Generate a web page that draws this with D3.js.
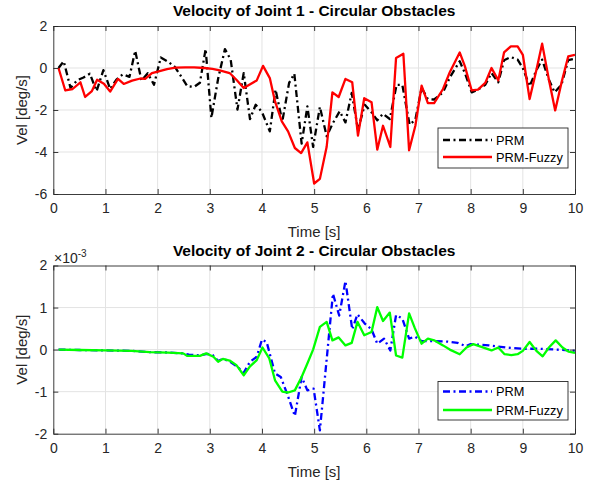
<!DOCTYPE html>
<html>
<head>
<meta charset="utf-8">
<script src="https://cdn.jsdelivr.net/npm/d3@7"></script>
<style>
  html, body { margin: 0; padding: 0; background: #fff; }
  svg { display: block; font-family: "Liberation Sans", Arial, Helvetica, sans-serif; }
</style>
</head>
<body>
<svg id="chart" width="593" height="482"></svg>
<script>
// Joint 1 velocity [deg/s]: [time s, value]
const joint1Prm = [
  [0.1, 0], [0.2, 0.32], [0.33, -0.95], [0.46, -0.58], [0.58, -0.45], [0.7, -0.27],
  [0.83, -1.1], [0.96, -0.1], [1.09, -1.0], [1.21, -0.55], [1.33, -0.3], [1.46, -0.42],
  [1.57, 0.82], [1.69, -0.6], [1.81, -0.25], [1.93, -0.8], [2.06, 0.5], [2.2, 0.3],
  [2.33, 0.05], [2.45, -0.4], [2.57, -0.87], [2.7, -0.9], [2.81, -0.7], [2.92, 0.9],
  [3.03, -2.38], [3.16, -0.5], [3.29, 0.9], [3.4, 0.4], [3.53, -1.98], [3.65, -0.24],
  [3.77, -2.43], [3.88, -1.75], [4.0, -2.1], [4.15, -3.02], [4.26, -1.03], [4.39, -2.54],
  [4.52, -0.71], [4.62, -0.27], [4.76, -3.6], [4.87, -1.83], [4.98, -3.76], [5.11, -1.85],
  [5.24, -3.25], [5.36, -2.62], [5.49, -2.06], [5.6, -2.59], [5.72, -1.19], [5.84, -2.94],
  [5.97, -1.75], [6.1, -2.11], [6.21, -2.49], [6.32, -2.18], [6.45, -2.43], [6.58, -0.8],
  [6.69, -0.8], [6.83, -2.7], [6.94, -2.46], [7.06, -0.95], [7.18, -1.48], [7.3, -1.5],
  [7.47, -1.16], [7.6, -0.45], [7.79, 0.32], [7.89, -0.24], [8.02, -1.16], [8.14, -1.03],
  [8.28, -0.8], [8.4, -0.24], [8.53, -0.68], [8.64, 0.37], [8.77, 0.52], [8.9, 0.4],
  [9.0, 0.0], [9.13, -0.87], [9.26, -0.1], [9.37, 0.4], [9.5, -0.56], [9.61, -1.16],
  [9.74, -0.8], [9.87, 0.37], [10.0, 0.44]
];
const joint1Fuzzy = [
  [0.1, 0], [0.23, -1.07], [0.37, -1.0], [0.52, -0.68], [0.61, -1.38], [0.74, -1.1],
  [0.84, -0.56], [0.97, -0.75], [1.09, -1.12], [1.24, -0.52], [1.35, -0.76], [1.51, -0.6],
  [1.67, -0.5], [1.76, -0.52], [1.89, -0.24], [2.02, -0.16], [2.18, -0.05], [2.34, 0.02],
  [2.53, 0.03], [2.7, 0.03], [2.9, 0.0], [3.05, -0.04], [3.19, -0.11], [3.38, -0.24],
  [3.51, -0.56], [3.65, -0.95], [3.9, -0.59], [4.02, 0.1], [4.15, -0.48], [4.25, -1.59],
  [4.38, -2.54], [4.5, -3.02], [4.63, -3.81], [4.75, -4.05], [4.87, -3.54], [5.0, -5.5],
  [5.11, -5.28], [5.24, -3.75], [5.35, -1.16], [5.47, -1.38], [5.6, -0.52], [5.73, -0.68],
  [5.84, -3.22], [5.96, -1.44], [6.1, -1.63], [6.21, -3.89], [6.32, -2.75], [6.46, -3.76],
  [6.57, 0.48], [6.71, 0.68], [6.82, -3.92], [6.94, -2.75], [7.06, -0.84], [7.18, -1.67],
  [7.3, -1.67], [7.47, -1.0], [7.6, -0.2], [7.79, 0.74], [7.89, 0.08], [8.02, -1.07],
  [8.14, -1.03], [8.28, -0.71], [8.4, 0.0], [8.53, -0.59], [8.64, 0.74], [8.77, 1.03],
  [8.9, 1.03], [9.0, 0.63], [9.13, -1.48], [9.26, -0.1], [9.37, 1.16], [9.5, -0.56],
  [9.62, -2.02], [9.74, -0.71], [9.87, 0.55], [10.0, 0.63]
];

// Joint 2 velocity [deg/s], in units of 1e-3: [time s, value]
const joint2Prm = [
  [0.1, 0.0], [0.5, -0.01], [1.0, -0.02], [1.5, -0.03], [1.85, -0.06], [2.2, -0.07],
  [2.49, -0.09], [2.6, -0.12], [2.81, -0.14], [2.95, -0.1], [3.05, -0.12], [3.16, -0.27],
  [3.25, -0.22], [3.38, -0.28], [3.53, -0.41], [3.65, -0.55], [3.77, -0.29], [3.9, -0.17],
  [4.0, 0.24], [4.09, 0.18], [4.25, -0.57], [4.36, -0.65], [4.5, -1.11], [4.63, -1.58],
  [4.76, -0.65], [4.87, -0.97], [4.99, -0.93], [5.11, -1.92], [5.36, 1.33], [5.48, 0.81],
  [5.6, 1.63], [5.73, 0.48], [5.83, 0.84], [5.97, 0.62], [6.1, 0.48], [6.21, 0.14],
  [6.34, 0.26], [6.46, -0.02], [6.57, 0.82], [6.69, 0.74], [6.82, 0.26], [6.93, 0.31],
  [7.06, 0.2], [7.3, 0.2], [7.56, 0.19], [7.75, 0.16], [7.91, 0.08], [8.0, 0.13],
  [8.35, 0.1], [8.67, 0.05], [9.0, 0.02], [9.32, 0.02], [9.65, 0.0], [10.0, -0.03]
];
const joint2Fuzzy = [
  [0.1, 0.0], [0.5, -0.01], [1.0, -0.02], [1.5, -0.03], [1.85, -0.06], [2.2, -0.07],
  [2.49, -0.09], [2.57, -0.15], [2.81, -0.15], [2.93, -0.09], [3.07, -0.17], [3.16, -0.29],
  [3.25, -0.22], [3.38, -0.26], [3.51, -0.37], [3.65, -0.61], [3.77, -0.4], [3.9, -0.25],
  [4.01, 0.05], [4.14, -0.21], [4.25, -0.73], [4.39, -1.0], [4.5, -1.02], [4.63, -0.97],
  [4.76, -0.65], [4.87, -0.33], [4.98, 0.0], [5.11, 0.54], [5.24, 0.66], [5.35, 0.22],
  [5.47, 0.29], [5.6, 0.1], [5.72, 0.16], [5.83, 0.66], [5.96, 0.34], [6.1, 0.42],
  [6.21, 1.01], [6.32, 0.68], [6.45, 0.88], [6.57, -0.14], [6.69, -0.19], [6.82, 0.86],
  [6.93, 0.51], [7.06, 0.14], [7.18, 0.26], [7.3, 0.22], [7.47, 0.1], [7.6, 0.0],
  [7.79, -0.11], [7.92, 0.05], [8.05, 0.13], [8.22, 0.06], [8.4, -0.02], [8.53, 0.05],
  [8.65, -0.11], [8.78, -0.13], [8.9, -0.11], [9.0, -0.03], [9.13, 0.18], [9.26, -0.03],
  [9.38, -0.16], [9.5, 0.05], [9.63, 0.22], [9.76, 0.05], [9.88, -0.05], [10.0, -0.08]
];

const timeTicks = [0, 1, 2, 3, 4, 5, 6, 7, 8, 9, 10];
const joint1Ticks = [-6, -4, -2, 0, 2];
const joint2Ticks = [-2, -1, 0, 1, 2];
const seriesNames = ["PRM", "PRM-Fuzzy"];

const svg = d3.select("#chart");
const axisColor = "#262626";
const gridColor = "#e3e3e3";
const left = 53.3, right = 575;
// integer tick labels with an ASCII hyphen for negatives
const plain = d => String(d);

function drawPanel(cfg) {
  const x = d3.scaleLinear().domain([0, 10]).range([left, right]);
  const y = d3.scaleLinear().domain(cfg.yDomain).range([cfg.bottom, cfg.top]);
  const g = svg.append("g");

  // grid
  g.append("g").selectAll("line.gx").data(timeTicks.slice(1, -1)).join("line")
    .attr("x1", d => x(d)).attr("x2", d => x(d))
    .attr("y1", cfg.top).attr("y2", cfg.bottom)
    .attr("stroke", gridColor).attr("stroke-width", 1);
  g.append("g").selectAll("line.gy").data(cfg.yTicks.slice(1, -1)).join("line")
    .attr("x1", left).attr("x2", right)
    .attr("y1", d => y(d)).attr("y2", d => y(d))
    .attr("stroke", gridColor).attr("stroke-width", 1);

  // data lines
  const clipId = "clip" + cfg.id;
  svg.append("clipPath").attr("id", clipId).append("rect")
    .attr("x", left).attr("y", cfg.top)
    .attr("width", right - left).attr("height", cfg.bottom - cfg.top);
  const line = d3.line().x(d => x(d[0])).y(d => y(d[1]));
  const lines = g.append("g").attr("clip-path", `url(#${clipId})`);
  lines.append("path").datum(cfg.prm)
    .attr("d", line).attr("fill", "none")
    .attr("stroke", cfg.prmColor).attr("stroke-width", 2.3)
    .attr("stroke-dasharray", "7,3.5,2,3.5").attr("stroke-linejoin", "round");
  lines.append("path").datum(cfg.fuzzy)
    .attr("d", line).attr("fill", "none")
    .attr("stroke", cfg.fuzzyColor).attr("stroke-width", 2.3)
    .attr("stroke-linejoin", "round");

  // axes with inward ticks on all four sides
  const axes = [
    { axis: d3.axisBottom(x).tickValues(timeTicks), t: `translate(0,${cfg.bottom})`, labels: true },
    { axis: d3.axisTop(x).tickValues(timeTicks), t: `translate(0,${cfg.top})`, labels: false },
    { axis: d3.axisLeft(y).tickValues(cfg.yTicks), t: `translate(${left},0)`, labels: true },
    { axis: d3.axisRight(y).tickValues(cfg.yTicks), t: `translate(${right},0)`, labels: false }
  ];
  axes.forEach((a, i) => {
    a.axis.tickSizeInner(-5).tickSizeOuter(0).tickFormat(plain);
    const ag = g.append("g").attr("transform", a.t).call(a.axis);
    ag.select(".domain").attr("stroke", axisColor).attr("stroke-width", 0.9);
    ag.selectAll(".tick line").attr("stroke", axisColor).attr("stroke-width", 0.9);
    ag.selectAll(".tick text")
      .attr("fill", axisColor)
      .style("font-size", "14px")
      .style("font-family", "Liberation Sans, Arial, sans-serif");
    if (!a.labels) ag.selectAll(".tick text").remove();
    if (i === 0) ag.selectAll(".tick text").attr("y", 9);
    if (i === 2) ag.selectAll(".tick text").attr("x", -6);
  });

  // title & axis labels
  svg.append("text").attr("x", (left + right) / 2).attr("y", cfg.top - 10)
    .attr("text-anchor", "middle").attr("font-weight", "bold")
    .attr("font-size", 15.5).attr("fill", "#000").text(cfg.title);
  svg.append("text").attr("x", (left + right) / 2).attr("y", cfg.bottom + 43)
    .attr("text-anchor", "middle").attr("font-size", 15)
    .attr("fill", axisColor).text("Time [s]");
  svg.append("text")
    .attr("transform", `translate(27,${(cfg.top + cfg.bottom) / 2}) rotate(-90)`)
    .attr("text-anchor", "middle").attr("font-size", 15)
    .attr("fill", axisColor).text("Vel [deg/s]");

  if (cfg.exponent) {
    const ex = svg.append("text").attr("x", 54).attr("y", cfg.top - 3)
      .attr("font-size", 14).attr("fill", axisColor);
    ex.append("tspan").text("\u00d710");
    ex.append("tspan").attr("dy", -6).attr("font-size", 10).text("-3");
  }

  // legend
  const lg = cfg.legend;
  svg.append("rect").attr("x", lg.x0).attr("y", lg.y0)
    .attr("width", lg.x1 - lg.x0).attr("height", lg.y1 - lg.y0)
    .attr("fill", "#fff").attr("stroke", axisColor).attr("stroke-width", 0.9);
  const rows = [
    { name: seriesNames[0], color: cfg.prmColor, dash: "7,3.5,2,3.5", yy: lg.r1 },
    { name: seriesNames[1], color: cfg.fuzzyColor, dash: null, yy: lg.r2 }
  ];
  rows.forEach(r => {
    svg.append("line").attr("x1", 443).attr("x2", 492)
      .attr("y1", r.yy).attr("y2", r.yy)
      .attr("stroke", r.color).attr("stroke-width", 2.3)
      .attr("stroke-dasharray", r.dash);
    svg.append("text").attr("x", 496).attr("y", r.yy + 4.5)
      .attr("font-size", 12.8).attr("fill", "#000").text(r.name);
  });
}

drawPanel({
  id: 1, top: 26, bottom: 194, yDomain: [-6, 2], yTicks: joint1Ticks,
  prm: joint1Prm, fuzzy: joint1Fuzzy, prmColor: "#000000", fuzzyColor: "#ff0000",
  title: "Velocity of Joint 1 - Circular Obstacles",
  legend: { x0: 438, x1: 568, y0: 128, y1: 168, r1: 140, r2: 157 }
});
drawPanel({
  id: 2, top: 265.5, bottom: 433.7, yDomain: [-2, 2], yTicks: joint2Ticks,
  prm: joint2Prm, fuzzy: joint2Fuzzy, prmColor: "#0000ff", fuzzyColor: "#00ff00",
  title: "Velocity of Joint 2 - Circular Obstacles", exponent: true,
  legend: { x0: 438, x1: 568, y0: 381.5, y1: 420, r1: 391.5, r2: 410 }
});
</script>
</body>
</html>
